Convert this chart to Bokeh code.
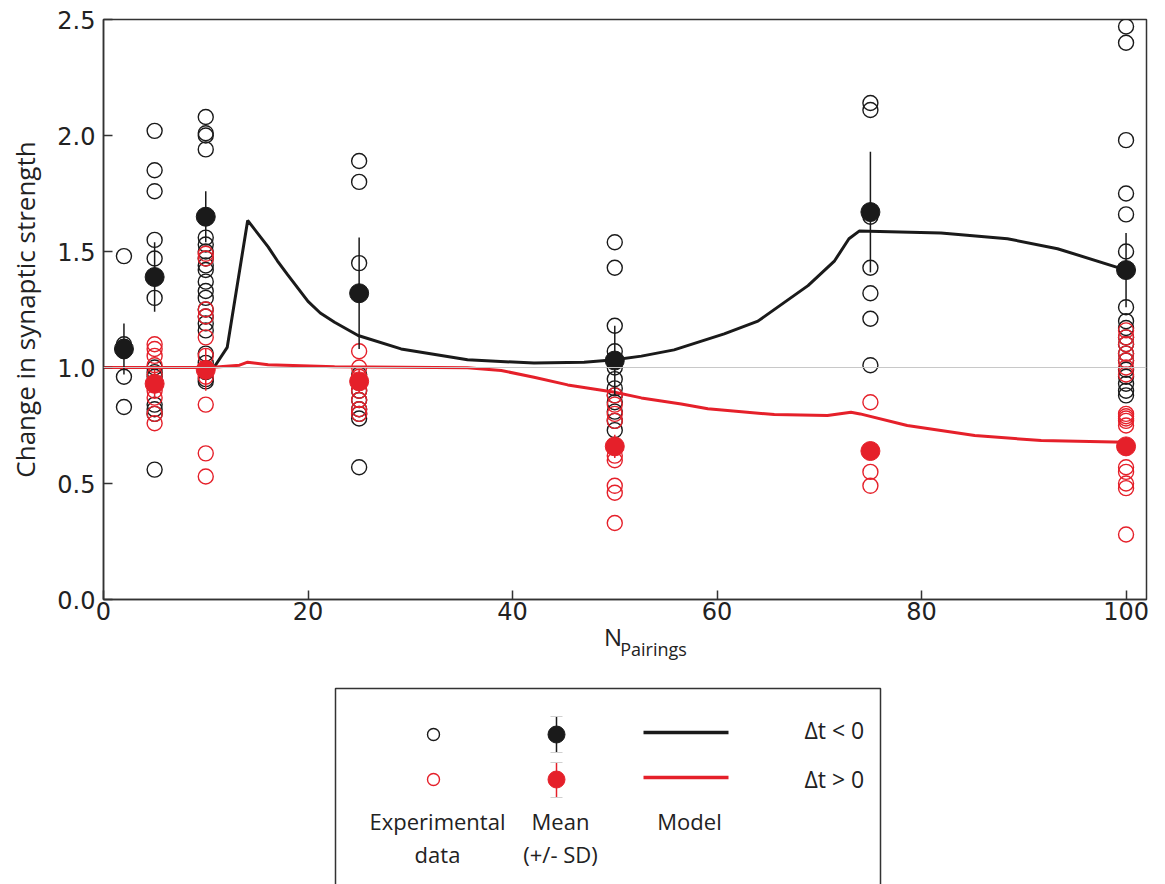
from bokeh.plotting import figure
from bokeh.models import Range1d, FixedTicker, Span, NumeralTickFormatter, LinearAxis
from bokeh.layouts import column
from bokeh.embed import file_html
from bokeh.resources import INLINE
from bokeh.core.properties import value

# ---------------- data ----------------
pairings = [2, 5, 10, 25, 50, 75, 100]

# experimental data, dt < 0 (black)
neg_2 = [1.48, 1.10, 1.09, 1.07, 0.96, 0.83]
neg_5 = [2.02, 1.85, 1.76, 1.55, 1.47, 1.30, 1.00, 0.98, 0.96, 0.84, 0.82, 0.80, 0.56]
neg_10 = [2.08, 2.01, 2.00, 1.94, 1.56, 1.53, 1.50, 1.47, 1.44, 1.42, 1.37, 1.33, 1.30,
          1.25, 1.22, 1.19, 1.16, 1.06, 1.02, 0.98, 0.95, 0.94]
neg_25 = [1.89, 1.80, 1.45, 0.97, 0.94, 0.90, 0.86, 0.82, 0.80, 0.78, 0.57]
neg_50 = [1.54, 1.43, 1.18, 1.07, 1.00, 0.95, 0.91, 0.88, 0.85, 0.81, 0.77, 0.73]
neg_75 = [2.14, 2.11, 1.65, 1.43, 1.32, 1.21, 1.01]
neg_100 = [2.47, 2.40, 1.98, 1.75, 1.66, 1.50, 1.26, 1.20, 1.17, 1.13, 1.10, 1.06,
           1.03, 0.99, 0.96, 0.93, 0.90, 0.88]

# experimental data, dt > 0 (red)
pos_5 = [1.10, 1.08, 1.05, 1.01, 0.97, 0.90, 0.87, 0.80, 0.76]
pos_10 = [1.49, 1.47, 1.25, 1.22, 1.13, 1.05, 0.96, 0.84, 0.63, 0.53]
pos_25 = [1.07, 1.00, 0.96, 0.90, 0.86, 0.82, 0.80]
pos_50 = [0.88, 0.84, 0.80, 0.77, 0.62, 0.60, 0.49, 0.46, 0.33]
pos_75 = [0.85, 0.55, 0.49]
pos_100 = [1.16, 1.13, 1.10, 1.06, 1.03, 1.00, 0.97, 0.80, 0.79, 0.78, 0.77, 0.75,
           0.57, 0.55, 0.50, 0.48, 0.28]

# means +/- SD
neg_mean_x = [2, 5, 10, 25, 50, 75, 100]
neg_mean = [1.08, 1.39, 1.65, 1.32, 1.03, 1.67, 1.42]
neg_sd = [0.11, 0.15, 0.11, 0.24, 0.15, 0.26, 0.16]
pos_mean_x = [5, 10, 25, 50, 75, 100]
pos_mean = [0.93, 0.99, 0.94, 0.66, 0.64, 0.66]
pos_sd = [0.06, 0.09, 0.05, 0.05, 0.03, 0.04]

# model curves
neg_model_x = [0, 10, 10.8, 12.1, 14.1, 16.1, 17.0, 18.0, 20.0, 21.2, 22.6, 24.9, 29.1,
               35.6, 42.1, 47.0, 50.0, 52.6, 55.8, 60.7, 64.0, 68.9, 71.5, 72.9, 73.9,
               81.9, 88.4, 93.3, 100]
neg_model = [1.0, 1.0, 1.0, 1.087, 1.634, 1.52, 1.46, 1.40, 1.285, 1.235, 1.195, 1.138,
             1.08, 1.033, 1.019, 1.023, 1.033, 1.049, 1.076, 1.145, 1.20, 1.353, 1.46,
             1.555, 1.588, 1.58, 1.555, 1.512, 1.42]
pos_model_x = [0, 10.4, 13.3, 14.1, 16.1, 22.6, 35.6, 38.9, 42.1, 45.4, 50.0, 52.6, 56.5,
               59.1, 65.6, 70.8, 73.1, 74.0, 78.6, 85.2, 91.7, 100]
pos_model = [1.0, 1.0, 1.01, 1.023, 1.012, 1.003, 0.999, 0.987, 0.958, 0.925, 0.893,
             0.869, 0.843, 0.822, 0.797, 0.793, 0.807, 0.80, 0.75, 0.707, 0.685, 0.678]

x_ticks = [0, 20, 40, 60, 80, 100]
y_ticks = [0.0, 0.5, 1.0, 1.5, 2.0, 2.5]

BLACK = "#1a1a1a"
RED = "#e5202a"
TXT = "#222222"
LABEL_FONT = "Open Sans"

# layout (page pixels)
FL, FR, FT, FB = 103, 1146, 19, 599      # plot frame edges
W = 1160
H1 = 665
H2 = 884 - H1
X_MAX, Y_MAX = 102, 2.5

# ---------------- main plot ----------------
p = figure(width=W, height=H1, x_range=Range1d(0, X_MAX), y_range=Range1d(0, Y_MAX),
           output_backend="svg", toolbar_location=None,
           min_border_left=FL, min_border_right=W - FR, min_border_top=FT,
           min_border_bottom=H1 - FB)
p.xgrid.visible = False
p.ygrid.visible = False
p.outline_line_color = "#333333"
p.outline_line_width = 1.5
p.background_fill_color = "white"
p.border_fill_color = "white"

for ax in (p.xaxis, p.yaxis):
    ax.major_tick_in = 9
    ax.major_tick_out = 0
    ax.minor_tick_in = 0
    ax.minor_tick_out = 0
    ax.axis_line_color = "#333333"
    ax.axis_line_width = 1.5
    ax.major_tick_line_color = "#333333"
    ax.major_tick_line_width = 1.5
    ax.major_label_text_font = "DejaVu Sans"
    ax.major_label_text_font_size = "24px"
    ax.major_label_text_color = TXT

p.xaxis.ticker = FixedTicker(ticks=x_ticks)
p.yaxis.ticker = FixedTicker(ticks=y_ticks)
p.yaxis.formatter = NumeralTickFormatter(format="0.0")
p.xaxis.major_label_standoff = 2
p.yaxis.major_label_standoff = 8
p.yaxis.axis_label = "Change in synaptic strength"
p.yaxis.axis_label_text_font = LABEL_FONT
p.yaxis.axis_label_text_font_size = "26px"
p.yaxis.axis_label_text_font_style = "normal"
p.yaxis.axis_label_text_color = TXT
p.yaxis.axis_label_standoff = 11


def title_axis(label, size, standoff):
    return LinearAxis(ticker=FixedTicker(ticks=[]), axis_label=label,
                      axis_label_text_font=LABEL_FONT, axis_label_text_font_size=size,
                      axis_label_text_font_style="normal", axis_label_text_color=TXT,
                      axis_label_standoff=standoff, axis_line_color=None,
                      major_tick_in=0, major_tick_out=0, minor_tick_in=0, minor_tick_out=0)


# x-axis title: "N" with subscript "Pairings" (em-spaces shift each part off-centre)
p.add_layout(title_axis("N\u2003", "24px", -3), "below")
p.add_layout(title_axis("\u2003\u2003\u2003\u2009Pairings", "18px", -19), "below")

p.add_layout(Span(location=1.0, dimension="width", line_color="#c8c8c8", line_width=1))

neg_cols = [neg_2, neg_5, neg_10, neg_25, neg_50, neg_75, neg_100]
pos_cols = [pos_5, pos_10, pos_25, pos_50, pos_75, pos_100]
nx, ny = [], []
for xv, col in zip(pairings, neg_cols):
    nx += [xv] * len(col)
    ny += col
px, py = [], []
for xv, col in zip(pairings[1:], pos_cols):
    px += [xv] * len(col)
    py += col

p.scatter(nx, ny, size=15, fill_color=None, line_color=BLACK, line_width=1.4)
p.scatter(px, py, size=15, fill_color=None, line_color=RED, line_width=1.4)

p.line(neg_model_x, neg_model, line_color=BLACK, line_width=3)
p.line(pos_model_x, pos_model, line_color=RED, line_width=3)

p.segment(x0=neg_mean_x, y0=[m - s for m, s in zip(neg_mean, neg_sd)],
          x1=neg_mean_x, y1=[m + s for m, s in zip(neg_mean, neg_sd)],
          line_color=BLACK, line_width=1.5)
p.segment(x0=pos_mean_x, y0=[m - s for m, s in zip(pos_mean, pos_sd)],
          x1=pos_mean_x, y1=[m + s for m, s in zip(pos_mean, pos_sd)],
          line_color=RED, line_width=1.5)
p.scatter(neg_mean_x, neg_mean, size=19, fill_color=BLACK, line_color=BLACK)
p.scatter(pos_mean_x, pos_mean, size=19, fill_color=RED, line_color=RED)

# ---------------- legend panel ----------------
q = figure(width=W, height=H2, x_range=Range1d(FL, FR), y_range=Range1d(H1 + H2, H1),
           x_axis_type=None, y_axis_type=None, output_backend="svg", toolbar_location=None,
           min_border_left=FL, min_border_right=W - FR, min_border_top=0,
           min_border_bottom=0)
q.outline_line_color = None
q.xgrid.visible = False
q.ygrid.visible = False

q.quad(left=335, right=880, top=688, bottom=960, fill_color=None, line_color="#333333",
       line_width=1.5)
q.scatter([433, 433], [734, 779], size=12, fill_color=None, line_color=[BLACK, RED],
          line_width=1.4)
q.segment(x0=[556, 556], y0=[716, 762], x1=[556, 556], y1=[752, 797],
          line_color=[BLACK, RED], line_width=1.5)
q.segment(x0=[550, 550, 550, 550], y0=[716, 752, 762, 797], x1=[562, 562, 562, 562],
          y1=[716, 752, 762, 797], line_color="#d0d0d0", line_width=1)
q.scatter([556, 556], [734, 779], size=17, fill_color=[BLACK, RED], line_color=[BLACK, RED])
q.segment(x0=[643, 643], y0=[732, 777], x1=[728, 728], y1=[732, 777],
          line_color=[BLACK, RED], line_width=3.5)
q.text(x=[804, 804], y=[729, 778], text=["\u0394t < 0", "\u0394t > 0"],
       text_font=value(LABEL_FONT), text_font_size="23px", text_color=TXT,
       text_align="left", text_baseline="middle")
q.text(x=[437, 437, 560, 560, 689], y=[820, 853, 820, 853, 820],
       text=["Experimental", "data", "Mean", "(+/- SD)", "Model"],
       text_font=value(LABEL_FONT), text_font_size="22px", text_color=TXT,
       text_align="center", text_baseline="middle")

layout = column(p, q, spacing=0)
open("out.html", "w").write(file_html(layout, INLINE))
